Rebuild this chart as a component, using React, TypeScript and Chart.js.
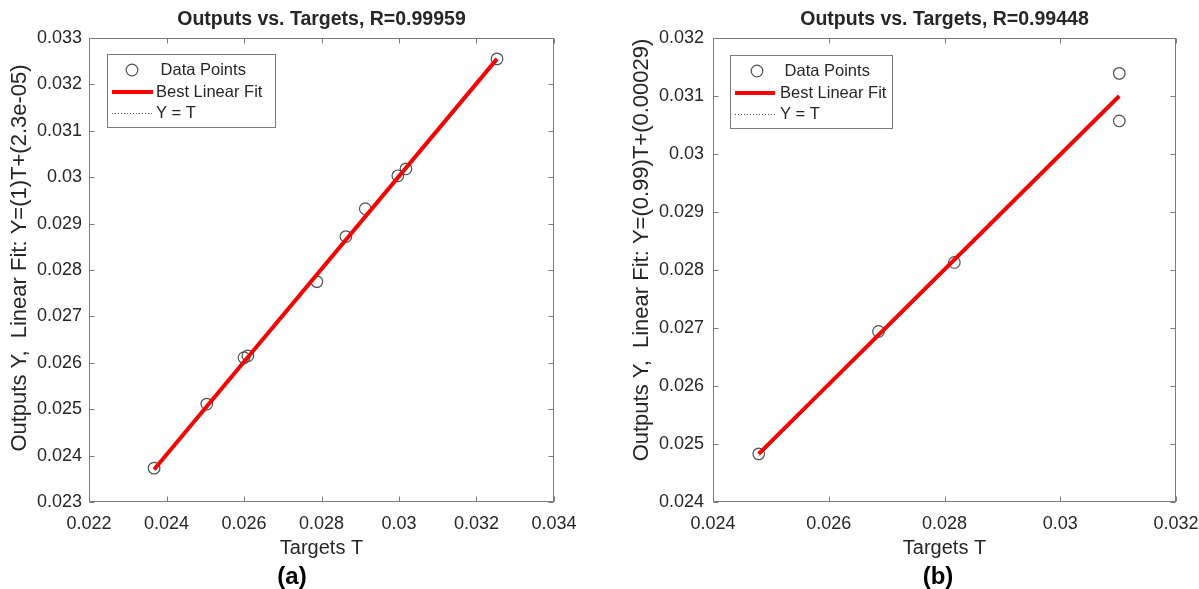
import React, { useEffect, useRef } from "react";
import { Chart, registerables } from "chart.js";
Chart.register(...registerables);

// ---------- Data ----------
// Panel (a)
const targetsA = [0.02368, 0.02504, 0.026, 0.0261, 0.02788, 0.02863, 0.02913, 0.02997, 0.03018, 0.03253];
const outputsA = [0.02373, 0.02511, 0.02611, 0.02615, 0.02775, 0.02872, 0.02932, 0.03003, 0.03018, 0.03255];
const fitTA = [0.02368, 0.03253];
const fitYA = [0.0237, 0.03255];
const identA = [0.02368, 0.03253];
const xTicksA = [0.022, 0.024, 0.026, 0.028, 0.03, 0.032, 0.034];
const yTicksA = [0.023, 0.024, 0.025, 0.026, 0.027, 0.028, 0.029, 0.03, 0.031, 0.032, 0.033];

// Panel (b)
const targetsB = [0.02479, 0.02686, 0.02817, 0.03102, 0.03102];
const outputsB = [0.02483, 0.02694, 0.02813, 0.03139, 0.03057];
const fitTB = [0.02479, 0.03102];
const fitYB = [0.02483, 0.031];
const identB = [0.02479, 0.03102];
const xTicksB = [0.024, 0.026, 0.028, 0.03, 0.032];
const yTicksB = [0.024, 0.025, 0.026, 0.027, 0.028, 0.029, 0.03, 0.031, 0.032];

const FONT = '"Liberation Sans", Arial, Helvetica, sans-serif';
const TEXT = "#262626";
const AXIS = "#7a7a7a";

const fmt = (v: number) => String(parseFloat(Number(v).toFixed(5)));

const matlabAxes = {
  id: "matlabAxes",
  afterDraw(chart: any) {
    const { ctx, chartArea } = chart;
    const { left, right, top, bottom } = chartArea;
    const x = chart.scales.x;
    const y = chart.scales.y;
    ctx.save();
    ctx.strokeStyle = AXIS;
    ctx.lineWidth = 1;
    const L = Math.round(left) + 0.5;
    const R = Math.round(right) - 0.5;
    const T = Math.round(top) + 0.5;
    const B = Math.round(bottom) - 0.5;
    ctx.strokeRect(L, T, R - L, B - T);
    const tl = 5;
    ctx.beginPath();
    x.ticks.forEach((t: any) => {
      const px = Math.round(x.getPixelForValue(t.value)) + 0.5;
      ctx.moveTo(px, B);
      ctx.lineTo(px, B - tl);
      ctx.moveTo(px, T);
      ctx.lineTo(px, T + tl);
    });
    y.ticks.forEach((t: any) => {
      const py = Math.round(y.getPixelForValue(t.value)) + 0.5;
      ctx.moveTo(L, py);
      ctx.lineTo(L + tl, py);
      ctx.moveTo(R, py);
      ctx.lineTo(R - tl, py);
    });
    ctx.stroke();
    ctx.restore();
  },
};

const mlTitles = {
  id: "mlTitles",
  afterDraw(chart: any, _args: any, opts: any) {
    const { ctx, chartArea } = chart;
    ctx.save();
    ctx.fillStyle = TEXT;
    ctx.textAlign = "center";
    ctx.textBaseline = "middle";
    ctx.font = `bold ${opts.size}px ${FONT}`;
    ctx.fillText(opts.text, (chartArea.left + chartArea.right) / 2, opts.y);
    ctx.font = `${opts.ySize}px ${FONT}`;
    ctx.translate(opts.yX, (chartArea.top + chartArea.bottom) / 2 + opts.yShift);
    ctx.rotate(-Math.PI / 2);
    ctx.fillText(opts.yText, 0, 0);
    ctx.restore();
  },
};

const mlLegend = {
  id: "mlLegend",
  afterDraw(chart: any, _args: any, opts: any) {
    const { ctx, chartArea } = chart;
    const bx = Math.round(chartArea.left + opts.dx);
    const by = Math.round(chartArea.top + opts.dy);
    ctx.save();
    ctx.fillStyle = "#ffffff";
    ctx.fillRect(bx, by, opts.w, opts.h);
    ctx.strokeStyle = AXIS;
    ctx.lineWidth = 1;
    ctx.strokeRect(bx + 0.5, by + 0.5, opts.w, opts.h);
    ctx.font = `${opts.fontSize}px ${FONT}`;
    ctx.textBaseline = "middle";
    ctx.textAlign = "left";
    chart.data.datasets.forEach((ds: any, i: number) => {
      const cy = by + opts.rowY[i];
      if (ds.showLine) {
        ctx.strokeStyle = ds.borderColor;
        ctx.lineWidth = ds.borderWidth;
        ctx.setLineDash(ds.borderDash || []);
        ctx.beginPath();
        ctx.moveTo(bx + opts.lineX0, cy);
        ctx.lineTo(bx + opts.lineX1, cy);
        ctx.stroke();
        ctx.setLineDash([]);
      } else {
        ctx.strokeStyle = ds.pointBorderColor;
        ctx.lineWidth = ds.pointBorderWidth;
        ctx.beginPath();
        ctx.arc(bx + opts.markX, cy, ds.pointRadius, 0, Math.PI * 2);
        ctx.stroke();
      }
      ctx.fillStyle = TEXT;
      ctx.fillText(ds.label, bx + opts.textX, cy);
    });
    ctx.restore();
  },
};

type Panel = {
  targets: number[];
  outputs: number[];
  fitT: number[];
  fitY: number[];
  ident: number[];
  xTicks: number[];
  yTicks: number[];
  title: string;
  yTitle: string;
  yTitleSize: number;
  yAxisWidth: number;
  padRight: number;
  yTitleX: number;
  yTitleShift: number;
  yTickPad: number;
  legend: any;
};

function makeConfig(p: Panel): any {
  const pts = p.targets.map((t, i) => ({ x: t, y: p.outputs[i] }));
  const fit = p.fitT.map((t, i) => ({ x: t, y: p.fitY[i] }));
  const ident = p.ident.map((t) => ({ x: t, y: t }));
  return {
    type: "scatter",
    data: {
      datasets: [
        {
          label: " Data Points",
          data: pts,
          showLine: false,
          pointRadius: 5.8,
          pointHoverRadius: 5.8,
          pointBorderColor: "#505050",
          pointBackgroundColor: "rgba(0,0,0,0)",
          pointBorderWidth: 1.2,
          borderColor: "#505050",
          order: 3,
        },
        {
          label: "Best Linear Fit",
          data: fit,
          showLine: true,
          pointRadius: 0,
          borderColor: "#ff0000",
          borderWidth: 4,
          order: 2,
        },
        {
          label: "Y = T",
          data: ident,
          showLine: true,
          pointRadius: 0,
          borderColor: "#444444",
          borderWidth: 1,
          borderDash: [1, 2],
          order: 1,
        },
      ],
    },
    options: {
      animation: false,
      responsive: false,
      events: [],
      layout: { padding: { top: 38, left: 0, right: p.padRight, bottom: 0 } },
      plugins: {
        legend: { display: false },
        tooltip: { enabled: false },
        title: { display: false },
        mlTitles: { text: p.title, size: 19.5, y: 20, yText: p.yTitle, ySize: p.yTitleSize, yX: p.yTitleX, yShift: p.yTitleShift },
        mlLegend: p.legend,
      },
      scales: {
        x: {
          type: "linear",
          position: "bottom",
          min: p.xTicks[0],
          max: p.xTicks[p.xTicks.length - 1],
          afterBuildTicks: (s: any) => {
            s.ticks = p.xTicks.map((value) => ({ value }));
          },
          afterFit: (s: any) => {
            s.height = 87;
            s.paddingLeft = 0;
            s.paddingRight = 0;
          },
          grid: { display: false, drawTicks: false, tickLength: 0 },
          border: { display: false },
          ticks: {
            color: TEXT,
            font: { family: FONT, size: 18 },
            padding: 11,
            maxRotation: 0,
            autoSkip: false,
            callback: (v: any) => fmt(v),
          },
          title: {
            display: true,
            text: "Targets T",
            color: TEXT,
            font: { family: FONT, size: 20 },
            padding: { top: 0, bottom: 29 },
          },
        },
        y: {
          type: "linear",
          position: "left",
          min: p.yTicks[0],
          max: p.yTicks[p.yTicks.length - 1],
          afterBuildTicks: (s: any) => {
            s.ticks = p.yTicks.map((value) => ({ value }));
          },
          afterFit: (s: any) => {
            s.width = p.yAxisWidth;
            s.paddingTop = 0;
            s.paddingBottom = 0;
          },
          grid: { display: false, drawTicks: false, tickLength: 0 },
          border: { display: false },
          ticks: {
            color: TEXT,
            font: { family: FONT, size: 18 },
            padding: p.yTickPad,
            autoSkip: false,
            callback: (v: any) => fmt(v),
          },
          title: { display: false },
        },
      },
    },
    plugins: [matlabAxes, mlTitles, mlLegend],
  };
}

const panelA: Panel = {
  targets: targetsA,
  outputs: outputsA,
  fitT: fitTA,
  fitY: fitYA,
  ident: identA,
  xTicks: xTicksA,
  yTicks: yTicksA,
  title: "Outputs vs. Targets, R=0.99959",
  yTitle: "Outputs Y,  Linear Fit: Y=(1)T+(2.3e-05)",
  yTitleSize: 22,
  yAxisWidth: 89,
  padRight: 46,
  yTitleX: 20,
  yTitleShift: -12,
  yTickPad: 7,
  legend: { dx: 18, dy: 16, w: 168, h: 73, rowY: [16, 38, 59.5], markX: 25, lineX0: 5, lineX1: 46, textX: 49, fontSize: 16.5 },
};

const panelB: Panel = {
  targets: targetsB,
  outputs: outputsB,
  fitT: fitTB,
  fitY: fitYB,
  ident: identB,
  xTicks: xTicksB,
  yTicks: yTicksB,
  title: "Outputs vs. Targets, R=0.99448",
  yTitle: "Outputs Y,  Linear Fit: Y=(0.99)T+(0.00029)",
  yTitleSize: 22,
  yAxisWidth: 113,
  padRight: 23,
  yTitleX: 42,
  yTitleShift: -20,
  yTickPad: 9,
  legend: { dx: 17, dy: 17, w: 162, h: 73, rowY: [16, 38, 59.5], markX: 27, lineX0: 5, lineX1: 45, textX: 50, fontSize: 16.5 },
};

function ChartCanvas({ panel, left, width }: { panel: Panel; left: number; width: number }) {
  const ref = useRef<HTMLCanvasElement | null>(null);
  useEffect(() => {
    if (!ref.current) return;
    const chart = new Chart(ref.current, makeConfig(panel));
    return () => chart.destroy();
  }, [panel]);
  return (
    <canvas
      ref={ref}
      width={width}
      height={589}
      style={{ position: "absolute", left, top: 0, width, height: 589 }}
    />
  );
}

export default function App() {
  const labelStyle: React.CSSProperties = {
    position: "absolute",
    top: 562,
    width: 60,
    textAlign: "center",
    fontFamily: FONT,
    fontWeight: "bold",
    fontSize: 24,
    lineHeight: "28px",
    color: "#000",
  };
  return (
    <div style={{ position: "absolute", left: 0, top: 0, width: 1199, height: 589, background: "#fff", overflow: "hidden" }}>
      <ChartCanvas panel={panelA} left={0} width={600} />
      <ChartCanvas panel={panelB} left={600} width={599} />
      <div style={{ ...labelStyle, left: 292 - 30 }}>(a)</div>
      <div style={{ ...labelStyle, left: 938 - 30 }}>(b)</div>
    </div>
  );
}
